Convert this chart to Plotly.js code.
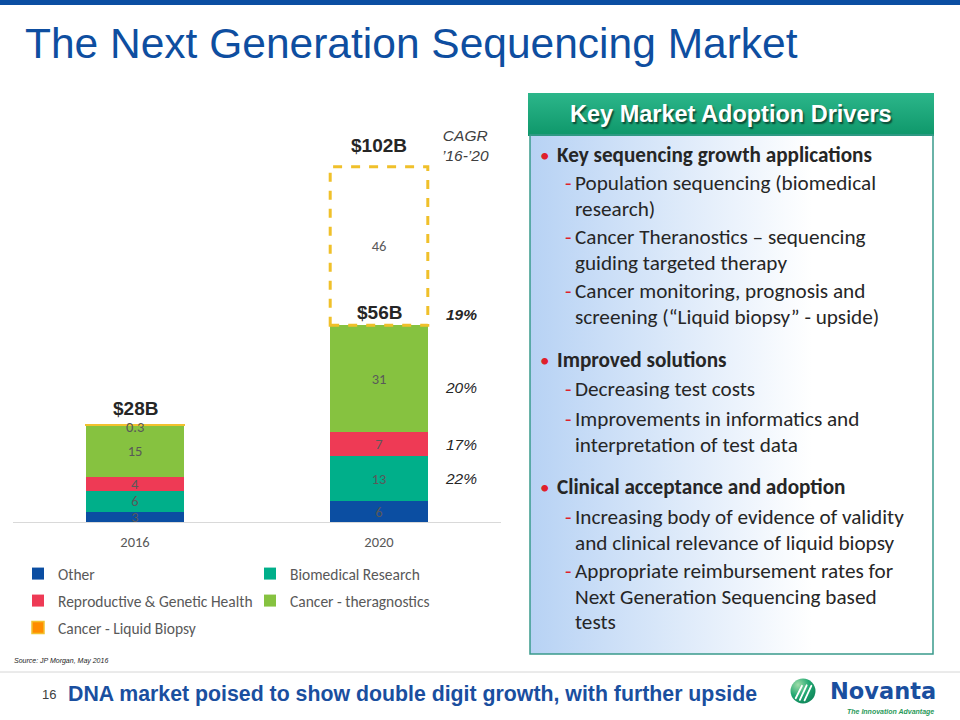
<!DOCTYPE html>
<html>
<head>
<meta charset="utf-8">
<script src="https://cdn.plot.ly/plotly-3.0.1.min.js"></script>
<style>html,body{margin:0;padding:0;background:#fff;}#chart{width:960px;height:720px;}</style>
</head>
<body>
<div id="chart"></div>
<script>
// ---- data ----
const categories = ['2016', '2020'];
const other = [3, 6];
const biomedical = [6, 13];
const reproductive = [4, 7];
const theragnostics = [15, 31];
const liquidBiopsy = [0.3, 46];
const seriesNames = ['Other', 'Biomedical Research', 'Reproductive & Genetic Health', 'Cancer - theragnostics', 'Cancer - Liquid Biopsy'];
const totalLabels = ['$28B', '$56B', '$102B'];
const cagrLabels = ['22%', '17%', '20%', '19%']; // biomedical, reproductive, theragnostics, total
const cagrHeader = 'CAGR<br>’16-’20';

// ---- layout helpers ----
const W = 960, H = 720;
const M = {l: 13, r: 459, t: 130, b: 198};
const pw = W - M.l - M.r, ph = H - M.t - M.b;
const X = p => (p - M.l) / pw;
const Y = p => (H - M.b - p) / ph;
const calibri = 'Carlito, Lato, "Noto Sans", sans-serif';
const arial = 'Arial, "Liberation Sans", sans-serif';
const gray = '#595959';

const colors = ['#0b4ea2', '#00af8a', '#ee3a55', '#86c240', '#ff8c00'];
const legends = ['legend', 'legend', 'legend2', 'legend2', 'legend3'];
const allSeries = [other, biomedical, reproductive, theragnostics, liquidBiopsy];

const traces = allSeries.map((vals, k) => {
  const t = {
    type: 'bar', x: categories, y: vals, name: seriesNames[k],
    legend: legends[k],
    marker: {color: colors[k], line: {width: 0}},
    text: vals.map(String), textposition: 'inside', insidetextanchor: 'middle',
    textangle: 0, constraintext: 'none',
    textfont: {family: calibri, size: 14.5, color: gray},
    hoverinfo: 'skip'
  };
  if (k === 4) {
    t.marker = {color: ['#ff8c00', 'rgba(255,255,255,0)'], line: {color: '#f2c12e', width: [1.5, 0]}};
    t.textposition = ['none', 'inside'];
  }
  return t;
});

const coreTop = i => other[i] + biomedical[i] + reproductive[i] + theragnostics[i];

const ann = [];
// totals
ann.push({x: 0, y: coreTop(0) + liquidBiopsy[0], text: '<b>' + totalLabels[0] + '</b>', yshift: 16});
ann.push({x: 1, y: coreTop(1), text: '<b>' + totalLabels[1] + '</b>', yshift: 13});
ann.push({x: 1, y: coreTop(1) + liquidBiopsy[1], text: '<b>' + totalLabels[2] + '</b>', yshift: 21});
ann.forEach(a => Object.assign(a, {xref: 'x', yref: 'y', showarrow: false, yanchor: 'middle',
  font: {family: arial, size: 19, color: '#262626'}}));
// small liquid biopsy label 2016
ann.push({x: 0, y: coreTop(0) + liquidBiopsy[0], xref: 'x', yref: 'y', showarrow: false, yanchor: 'middle',
  yshift: -3, text: String(liquidBiopsy[0]), font: {family: calibri, size: 14.5, color: gray}});
// CAGR
const cagrY = [other[1] + biomedical[1] / 2,
  other[1] + biomedical[1] + reproductive[1] / 2,
  other[1] + biomedical[1] + reproductive[1] + theragnostics[1] / 2,
  coreTop(1)];
const cagrShift = [0, 0, -9, 11];
cagrLabels.forEach((c, i) => ann.push({x: 1, y: cagrY[i], xref: 'x', yref: 'y', xshift: 82, yshift: cagrShift[i],
  showarrow: false, yanchor: 'middle', text: i === 3 ? '<b><i>' + c + '</i></b>' : '<i>' + c + '</i>',
  font: {family: arial, size: 15.5, color: '#262626'}}));
ann.push({x: 1, y: coreTop(1) + liquidBiopsy[1], xref: 'x', yref: 'y', xshift: 86, yshift: 21,
  showarrow: false, yanchor: 'middle', text: '<i>' + cagrHeader + '</i>',
  font: {family: arial, size: 15.5, color: '#404040'}});

// page texts
function pa(px, py, text, font, opts) {
  ann.push(Object.assign({xref: 'paper', yref: 'paper', x: X(px), y: Y(py), text: text, showarrow: false,
    xanchor: 'left', yanchor: 'middle', font: font}, opts || {}));
}
pa(23, 43, 'The Next Generation Sequencing Market', {family: arial, size: 42.5, color: '#0e4ea0'});
pa(12, 661, '<i>Source: JP Morgan, May 2016</i>', {family: arial, size: 7, color: '#262626'});
pa(40, 694, '16', {family: arial, size: 13, color: '#404040'});
pa(66, 694, '<b>DNA market poised to show double digit growth, with further upside</b>', {family: arial, size: 21.3, color: '#1a4f9f'});
pa(828, 691, '<b>Novanta</b>', {family: '"DejaVu Sans", sans-serif', size: 22.5, color: '#1a4f9f'});
pa(936, 712, '<b><i>The Innovation Advantage</i></b>', {family: arial, size: 7, color: '#2a9a5a'}, {xanchor: 'right'});

// panel header
pa(731, 114, '<b>Key Market Adoption Drivers</b>',
  {family: arial, size: 23.5, color: '#ffffff', shadow: '1.5px 1.5px 1.5px rgba(0,0,0,0.55)'}, {xanchor: 'center'});

const panelLines = [
  [0, 'Key sequencing growth applications', 155],
  [1, 'Population sequencing (biomedical', 183],
  [2, 'research)', 209],
  [1, 'Cancer Theranostics – sequencing', 237],
  [2, 'guiding targeted therapy', 263],
  [1, 'Cancer monitoring, prognosis and', 291],
  [2, 'screening (“Liquid biopsy” - upside)', 317],
  [0, 'Improved solutions', 360],
  [1, 'Decreasing test costs', 389],
  [1, 'Improvements in informatics and', 419],
  [2, 'interpretation of test data', 445],
  [0, 'Clinical acceptance and adoption', 487],
  [1, 'Increasing body of evidence of validity', 517],
  [2, 'and clinical relevance of liquid biopsy', 543],
  [1, 'Appropriate reimbursement rates for', 571],
  [2, 'Next Generation Sequencing based', 597],
  [2, 'tests', 622]
];
const pf = {family: calibri, size: 21.2, color: '#262626'};
panelLines.forEach(([lvl, txt, py]) => {
  if (lvl === 0) {
    pa(538, py, '•', {family: calibri, size: 19, color: '#e0202a'});
    pa(555, py, '<b>' + txt + '</b>', pf);
  } else {
    if (lvl === 1) pa(563, py, '-', {family: calibri, size: 21, color: '#e0202a'});
    pa(573, py, txt, pf);
  }
});

// shapes
const shapes = [
  {type: 'rect', xref: 'paper', yref: 'paper', x0: X(0), x1: X(960), y0: Y(0), y1: Y(5), fillcolor: '#0b4ea2', line: {width: 0}},
  {type: 'line', xref: 'paper', yref: 'paper', x0: X(0), x1: X(960), y0: Y(672), y1: Y(672), line: {color: '#d6d6d6', width: 1}},
  {type: 'rect', xref: 'paper', yref: 'paper', x0: X(530), x1: X(933), y0: Y(135), y1: Y(654), line: {color: '#3a9a8c', width: 1.5}},
  // dashed outline for 2020 liquid biopsy
  {type: 'rect', xref: 'x', yref: 'y', x0: 0.8, x1: 1.2, y0: coreTop(1), y1: coreTop(1) + liquidBiopsy[1],
    line: {color: '#f0c02a', width: 3, dash: 'dash'}, layer: 'above'}
];

const svgUri = s => 'data:image/svg+xml;charset=utf-8,' + encodeURIComponent(s);
const bodySvg = "<svg xmlns='http://www.w3.org/2000/svg' width='100' height='100' viewBox='0 0 100 100' preserveAspectRatio='none'><defs><linearGradient id='g' x1='0' y1='0' x2='1' y2='0'><stop offset='0' stop-color='#b7d2f4'/><stop offset='0.7' stop-color='#ffffff'/></linearGradient></defs><rect width='100' height='100' fill='url(#g)'/></svg>";
const headSvg = "<svg xmlns='http://www.w3.org/2000/svg' width='100' height='100' viewBox='0 0 100 100' preserveAspectRatio='none'><defs><linearGradient id='h' x1='0' y1='0' x2='0' y2='1'><stop offset='0' stop-color='#2cb68a'/><stop offset='1' stop-color='#0e976a'/></linearGradient></defs><rect width='100' height='100' fill='url(#h)'/></svg>";
const logoSvg = "<svg xmlns='http://www.w3.org/2000/svg' width='100' height='100' viewBox='0 0 100 100'><defs><radialGradient id='r' cx='0.3' cy='0.25' r='0.9'><stop offset='0' stop-color='#9fdca8'/><stop offset='0.5' stop-color='#22a872'/><stop offset='1' stop-color='#0b7f55'/></radialGradient><clipPath id='c'><circle cx='50' cy='50' r='48'/></clipPath></defs><circle cx='50' cy='50' r='48' fill='url(#r)'/><g clip-path='url(#c)' stroke='#ffffff' stroke-width='7' stroke-linecap='round'><line x1='22' y1='78' x2='46' y2='30'/><line x1='38' y1='84' x2='64' y2='28'/><line x1='56' y1='86' x2='82' y2='30'/></g></svg>";

const images = [
  {source: svgUri(bodySvg), xref: 'paper', yref: 'paper', x: X(530), y: Y(135), sizex: (933 - 530) / pw, sizey: (654 - 135) / ph,
    sizing: 'stretch', xanchor: 'left', yanchor: 'top', layer: 'below'},
  {source: svgUri(headSvg), xref: 'paper', yref: 'paper', x: X(528), y: Y(93), sizex: (934 - 528) / pw, sizey: (136 - 93) / ph,
    sizing: 'stretch', xanchor: 'left', yanchor: 'top', layer: 'below'},
  {source: svgUri(logoSvg), xref: 'paper', yref: 'paper', x: X(790), y: Y(678), sizex: 26 / pw, sizey: 26 / ph,
    sizing: 'stretch', xanchor: 'left', yanchor: 'top', layer: 'above'}
];

const legendBase = {orientation: 'h', traceorder: 'normal', xanchor: 'left', yanchor: 'middle', entrywidth: 187, entrywidthmode: 'pixels',
  font: {family: calibri, size: 15.5, color: gray}, bgcolor: 'rgba(0,0,0,0)', itemclick: false, itemdoubleclick: false};

const layout = {
  width: W, height: H, margin: M,
  paper_bgcolor: '#ffffff', plot_bgcolor: 'rgba(0,0,0,0)',
  barmode: 'stack', bargap: 0.6,
  showlegend: true,
  legend: Object.assign({}, legendBase, {x: X(18), y: Y(574)}),
  legend2: Object.assign({}, legendBase, {x: X(18), y: Y(601)}),
  legend3: Object.assign({}, legendBase, {x: X(18), y: Y(628)}),
  xaxis: {type: 'category', range: [-0.5, 1.5], showline: true, linecolor: '#d9d9d9', linewidth: 1,
    ticks: '', showgrid: false, zeroline: false, ticklabelstandoff: 7,
    tickfont: {family: calibri, size: 14.5, color: gray}, fixedrange: true},
  yaxis: {range: [0, ph / 3.45], visible: false, showgrid: false, zeroline: false, fixedrange: true},
  annotations: ann, shapes: shapes, images: images,
  hovermode: false
};

Plotly.newPlot('chart', traces, layout, {displayModeBar: false, staticPlot: true});
</script>
</body>
</html>
